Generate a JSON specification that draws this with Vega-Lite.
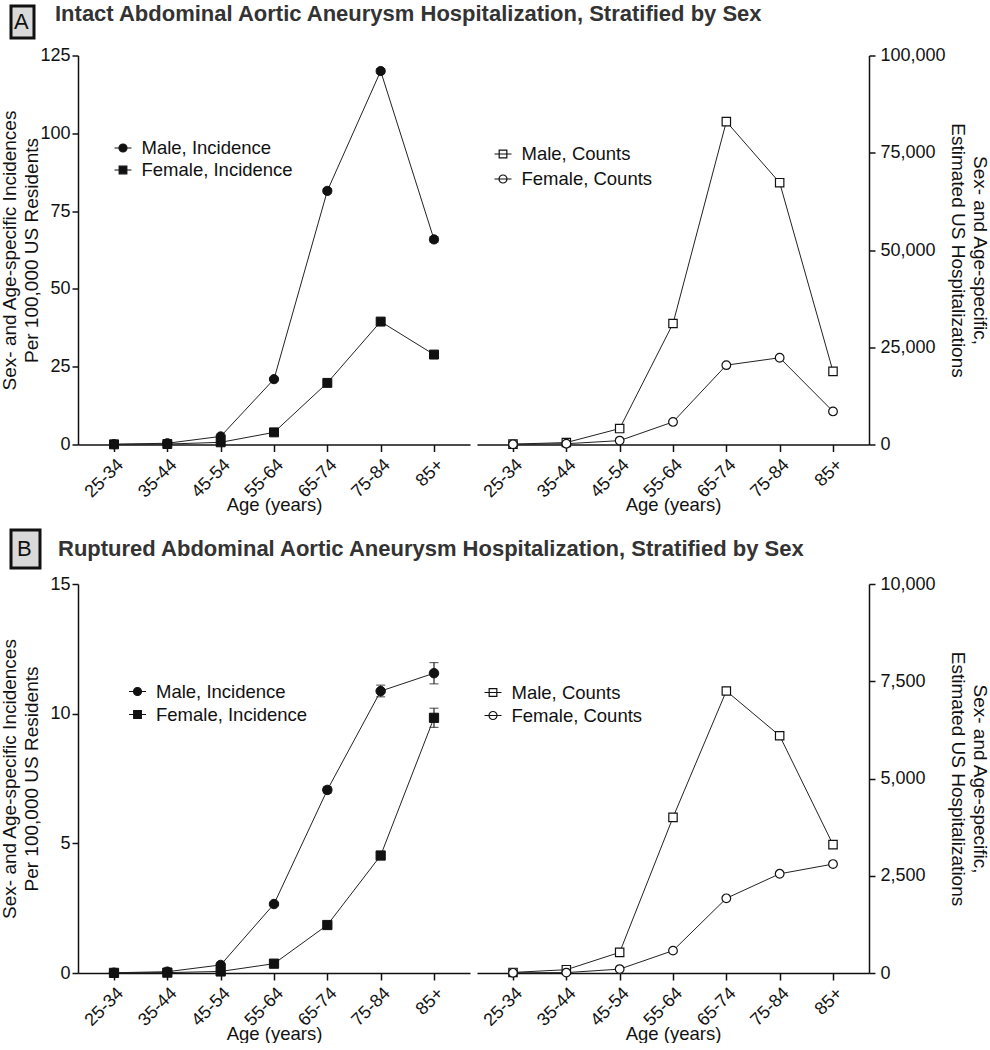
{
  "$schema": "https://vega.github.io/schema/vega-lite/v6.json",
  "background": "white",
  "padding": {"left": 0, "top": 3, "right": 0, "bottom": 0},
  "config": {
    "view": {"stroke": null},
    "font": "Liberation Sans",
    "axis": {"grid": false, "domainColor": "#111", "domainWidth": 1.5, "tickColor": "#111", "tickWidth": 1.5, "labelColor": "#111", "titleColor": "#111", "labelFont": "Liberation Sans", "titleFont": "Liberation Sans", "labelFontSize": 18, "titleFontSize": 19, "titleFontWeight": "normal"},
    "legend": {"labelFont": "Liberation Sans", "labelFontSize": 18.5, "labelColor": "#111", "labelOffset": 9, "padding": 0, "title": null, "symbolSize": 289, "symbolStrokeWidth": 1.2}
  },
  "datasets": {
    "incA": [
      {"age": "25-34", "series": "Male, Incidence", "v": 0.1, "lo": 0.05, "hi": 0.15},
      {"age": "35-44", "series": "Male, Incidence", "v": 0.4, "lo": 0.3, "hi": 0.5},
      {"age": "45-54", "series": "Male, Incidence", "v": 2.6, "lo": 2.4, "hi": 2.8},
      {"age": "55-64", "series": "Male, Incidence", "v": 21.0, "lo": 20.6, "hi": 21.4},
      {"age": "65-74", "series": "Male, Incidence", "v": 81.5, "lo": 80.8, "hi": 82.2},
      {"age": "75-84", "series": "Male, Incidence", "v": 120.0, "lo": 119.2, "hi": 120.8},
      {"age": "85+", "series": "Male, Incidence", "v": 65.9, "lo": 65.0, "hi": 66.8},
      {"age": "25-34", "series": "Female, Incidence", "v": 0.05, "lo": 0.02, "hi": 0.08},
      {"age": "35-44", "series": "Female, Incidence", "v": 0.15, "lo": 0.1, "hi": 0.2},
      {"age": "45-54", "series": "Female, Incidence", "v": 0.7, "lo": 0.6, "hi": 0.8},
      {"age": "55-64", "series": "Female, Incidence", "v": 3.9, "lo": 3.7, "hi": 4.1},
      {"age": "65-74", "series": "Female, Incidence", "v": 19.8, "lo": 19.4, "hi": 20.2},
      {"age": "75-84", "series": "Female, Incidence", "v": 39.5, "lo": 39.0, "hi": 40.0},
      {"age": "85+", "series": "Female, Incidence", "v": 28.9, "lo": 28.3, "hi": 29.5}
    ],
    "cntA": [
      {"age": "25-34", "series": "Male, Counts", "v": 100},
      {"age": "35-44", "series": "Male, Counts", "v": 500},
      {"age": "45-54", "series": "Male, Counts", "v": 4100},
      {"age": "55-64", "series": "Male, Counts", "v": 31100},
      {"age": "65-74", "series": "Male, Counts", "v": 83000},
      {"age": "75-84", "series": "Male, Counts", "v": 67300},
      {"age": "85+", "series": "Male, Counts", "v": 18800},
      {"age": "25-34", "series": "Female, Counts", "v": 50},
      {"age": "35-44", "series": "Female, Counts", "v": 200},
      {"age": "45-54", "series": "Female, Counts", "v": 1000},
      {"age": "55-64", "series": "Female, Counts", "v": 5800},
      {"age": "65-74", "series": "Female, Counts", "v": 20400},
      {"age": "75-84", "series": "Female, Counts", "v": 22300},
      {"age": "85+", "series": "Female, Counts", "v": 8500}
    ],
    "incB": [
      {"age": "25-34", "series": "Male, Incidence", "v": 0.01, "lo": 0.005, "hi": 0.015},
      {"age": "35-44", "series": "Male, Incidence", "v": 0.05, "lo": 0.04, "hi": 0.06},
      {"age": "45-54", "series": "Male, Incidence", "v": 0.31, "lo": 0.28, "hi": 0.34},
      {"age": "55-64", "series": "Male, Incidence", "v": 2.66, "lo": 2.6, "hi": 2.72},
      {"age": "65-74", "series": "Male, Incidence", "v": 7.06, "lo": 6.94, "hi": 7.18},
      {"age": "75-84", "series": "Male, Incidence", "v": 10.87, "lo": 10.65, "hi": 11.1},
      {"age": "85+", "series": "Male, Incidence", "v": 11.56, "lo": 11.15, "hi": 11.97},
      {"age": "25-34", "series": "Female, Incidence", "v": 0.005, "lo": 0.003, "hi": 0.007},
      {"age": "35-44", "series": "Female, Incidence", "v": 0.015, "lo": 0.01, "hi": 0.02},
      {"age": "45-54", "series": "Female, Incidence", "v": 0.06, "lo": 0.05, "hi": 0.07},
      {"age": "55-64", "series": "Female, Incidence", "v": 0.36, "lo": 0.33, "hi": 0.39},
      {"age": "65-74", "series": "Female, Incidence", "v": 1.85, "lo": 1.79, "hi": 1.91},
      {"age": "75-84", "series": "Female, Incidence", "v": 4.53, "lo": 4.41, "hi": 4.65},
      {"age": "85+", "series": "Female, Incidence", "v": 9.84, "lo": 9.47, "hi": 10.21}
    ],
    "cntB": [
      {"age": "25-34", "series": "Male, Counts", "v": 15},
      {"age": "35-44", "series": "Male, Counts", "v": 85},
      {"age": "45-54", "series": "Male, Counts", "v": 530},
      {"age": "55-64", "series": "Male, Counts", "v": 4000},
      {"age": "65-74", "series": "Male, Counts", "v": 7250},
      {"age": "75-84", "series": "Male, Counts", "v": 6100},
      {"age": "85+", "series": "Male, Counts", "v": 3300},
      {"age": "25-34", "series": "Female, Counts", "v": 5},
      {"age": "35-44", "series": "Female, Counts", "v": 10},
      {"age": "45-54", "series": "Female, Counts", "v": 100},
      {"age": "55-64", "series": "Female, Counts", "v": 575},
      {"age": "65-74", "series": "Female, Counts", "v": 1920},
      {"age": "75-84", "series": "Female, Counts", "v": 2550},
      {"age": "85+", "series": "Female, Counts", "v": 2800}
    ]
  },
  "spacing": 13,
  "resolve": {"scale": {"color": "independent"}, "legend": {"color": "independent"}},
  "vconcat": [
    {
      "spacing": 6.5,
      "resolve": {"scale": {"color": "independent"}, "legend": {"color": "independent"}},
      "vconcat": [
        {
          "width": 1, "height": 32,
          "data": {"values": [{"label": "A", "title": "Intact Abdominal Aortic Aneurysm Hospitalization, Stratified by Sex"}]},
          "mark": {"type": "text", "fontSize": 22, "fontWeight": "bold", "baseline": "middle", "align": "left", "dx": -23.5, "dy": -8, "font": "Liberation Sans"},
          "encoding": {
            "text": {"field": "title"},
            "color": {"field": "label", "type": "nominal", "scale": {"range": ["#333"]}, "legend": {"orient": "left", "offset": 43.8, "title": null, "padding": 5, "symbolSize": 0.01, "symbolOpacity": 0, "symbolStrokeWidth": 0, "labelOffset": -24, "labelFontSize": 22, "labelColor": "#111", "labelFont": "Liberation Sans", "encode": {"legend": {"update": {"fill": {"value": "#d9d9d9"}, "stroke": {"value": "#111"}, "strokeWidth": {"value": 3}}}}}}
          }
        },
        {
          "spacing": 7,
          "hconcat": [
            {
              "width": 392, "height": 389,
              "data": {"name": "incA"},
              "encoding": {
                "x": {"field": "age", "type": "ordinal", "scale": {"type": "point", "domain": ["25-34", "35-44", "45-54", "55-64", "65-74", "75-84", "85+"], "padding": 0.675}, "axis": {"title": "Age (years)", "labelAngle": -45, "tickSize": 7, "labelPadding": 4, "titlePadding": -5, "titleFontSize": 18.5}},
                "y": {"field": "v", "type": "quantitative", "scale": {"domain": [0, 125], "nice": false}, "axis": {"title": ["Sex- and Age-specific Incidences", "Per 100,000 US Residents"], "values": [0, 25, 50, 75, 100, 125], "format": "d", "tickSize": 6, "labelPadding": 2, "minExtent": 28, "maxExtent": 28, "titlePadding": 9, "titleLineHeight": 22}}
              },
              "layer": [
                {
                  "mark": {"type": "line", "color": "#222", "strokeWidth": 1},
                  "encoding": {"detail": {"field": "series"}}
                },
                {
                  "mark": {"type": "errorbar", "ticks": {"size": 9, "color": "#222", "thickness": 1.2}, "rule": {"color": "#222", "strokeWidth": 1.2}},
                  "encoding": {
                    "y": {"field": "lo", "type": "quantitative", "scale": {"domain": [0, 125], "nice": false}, "axis": {"title": ["Sex- and Age-specific Incidences", "Per 100,000 US Residents"], "values": [0, 25, 50, 75, 100, 125], "format": "d", "tickSize": 6, "labelPadding": 2, "minExtent": 28, "maxExtent": 28, "titlePadding": 9, "titleLineHeight": 22}},
                    "y2": {"field": "hi"}
                  }
                },
                {
                  "mark": {"type": "point", "filled": true, "fill": "#111", "stroke": "#111", "strokeWidth": 1, "opacity": 1},
                  "encoding": {
                    "shape": {"field": "series", "type": "nominal", "scale": {"domain": ["Male, Incidence", "Female, Incidence"], "range": ["circle", "square"]}, "legend": null},
                    "size": {"field": "series", "type": "nominal", "scale": {"domain": ["Male, Incidence", "Female, Incidence"], "range": [85, 80]}, "legend": null}
                  }
                },
                {
                  "transform": [{"filter": "datum.v < 0"}],
                  "mark": {"type": "point", "filled": true, "fill": "#111", "stroke": "#111", "strokeWidth": 1.2, "opacity": 1},
                  "encoding": {
                    "shape": {"field": "series", "type": "nominal", "scale": {"domain": ["Male, Incidence", "Female, Incidence"], "range": ["M-1,0H1M0.47,0A0.47,0.47,0,1,1,-0.47,0A0.47,0.47,0,1,1,0.47,0Z", "M-1,0H1M-0.45,-0.45H0.45V0.45H-0.45Z"]}, "legend": {"orient": "none", "legendX": 35.5, "legendY": 83, "rowPadding": 3, "encode": {"symbols": {"update": {"fill": {"value": "#111"}, "stroke": {"value": "#111"}, "strokeWidth": {"value": 1.2}, "opacity": {"value": 1}}}}}}
                  }
                }
              ],
              "resolve": {"scale": {"shape": "independent", "size": "independent"}}
            },
            {
              "width": 392, "height": 389,
              "data": {"name": "cntA"},
              "encoding": {
                "x": {"field": "age", "type": "ordinal", "scale": {"type": "point", "domain": ["25-34", "35-44", "45-54", "55-64", "65-74", "75-84", "85+"], "padding": 0.675}, "axis": {"title": "Age (years)", "labelAngle": -45, "tickSize": 7, "labelPadding": 4, "titlePadding": -5, "titleFontSize": 18.5}},
                "y": {"field": "v", "type": "quantitative", "scale": {"domain": [0, 100000], "nice": false}, "axis": {"orient": "right", "title": ["Sex- and Age-specific,", "Estimated US Hospitalizations"], "values": [0, 25000, 50000, 75000, 100000], "format": ",d", "tickSize": 6, "labelPadding": 5, "minExtent": 74, "maxExtent": 74, "titlePadding": 4, "titleLineHeight": 22}}
              },
              "layer": [
                {
                  "mark": {"type": "line", "color": "#222", "strokeWidth": 1},
                  "encoding": {"detail": {"field": "series"}}
                },
                {
                  "mark": {"type": "point", "filled": true, "fill": "white", "stroke": "#111", "strokeWidth": 1.2, "opacity": 1},
                  "encoding": {
                    "shape": {"field": "series", "type": "nominal", "scale": {"domain": ["Male, Counts", "Female, Counts"], "range": ["square", "circle"]}, "legend": null},
                    "size": {"field": "series", "type": "nominal", "scale": {"domain": ["Male, Counts", "Female, Counts"], "range": [70, 75]}, "legend": null}
                  }
                },
                {
                  "transform": [{"filter": "datum.v < 0"}],
                  "mark": {"type": "point", "filled": true, "fill": "white", "stroke": "#111", "strokeWidth": 1.2, "opacity": 1},
                  "encoding": {
                    "shape": {"field": "series", "type": "nominal", "scale": {"domain": ["Male, Counts", "Female, Counts"], "range": ["M-1,0H1M-0.45,-0.45H0.45V0.45H-0.45Z", "M-1,0H1M0.47,0A0.47,0.47,0,1,1,-0.47,0A0.47,0.47,0,1,1,0.47,0Z"]}, "legend": {"orient": "none", "legendX": 16.5, "legendY": 89, "rowPadding": 6, "encode": {"symbols": {"update": {"fill": {"value": "white"}, "stroke": {"value": "#111"}, "strokeWidth": {"value": 1.2}, "opacity": {"value": 1}}}}}}
                  }
                }
              ],
              "resolve": {"scale": {"shape": "independent", "size": "independent"}}
            }
          ]
        }
      ]
    },
    {
      "spacing": 5,
      "resolve": {"scale": {"color": "independent"}, "legend": {"color": "independent"}},
      "vconcat": [
        {
          "width": 1, "height": 38,
          "data": {"values": [{"label": "B", "title": "Ruptured Abdominal Aortic Aneurysm Hospitalization, Stratified by Sex"}]},
          "mark": {"type": "text", "fontSize": 22, "fontWeight": "bold", "baseline": "middle", "align": "left", "dx": -20.5, "font": "Liberation Sans"},
          "encoding": {
            "text": {"field": "title"},
            "color": {"field": "label", "type": "nominal", "scale": {"range": ["#333"]}, "legend": {"orient": "left", "offset": 37.8, "title": null, "padding": 8, "symbolSize": 0.01, "symbolOpacity": 0, "symbolStrokeWidth": 0, "labelOffset": -24, "labelFontSize": 22, "labelColor": "#111", "labelFont": "Liberation Sans", "encode": {"legend": {"update": {"fill": {"value": "#d9d9d9"}, "stroke": {"value": "#111"}, "strokeWidth": {"value": 3}}}}}}
          }
        },
        {
          "spacing": 7,
          "hconcat": [
            {
              "width": 392, "height": 389,
              "data": {"name": "incB"},
              "encoding": {
                "x": {"field": "age", "type": "ordinal", "scale": {"type": "point", "domain": ["25-34", "35-44", "45-54", "55-64", "65-74", "75-84", "85+"], "padding": 0.675}, "axis": {"title": "Age (years)", "labelAngle": -45, "tickSize": 7, "labelPadding": 4, "titlePadding": -5, "titleFontSize": 18.5}},
                "y": {"field": "v", "type": "quantitative", "scale": {"domain": [0, 15], "nice": false}, "axis": {"title": ["Sex- and Age-specific Incidences", "Per 100,000 US Residents"], "values": [0, 5, 10, 15], "format": "d", "tickSize": 6, "labelPadding": 2, "minExtent": 28, "maxExtent": 28, "titlePadding": 9, "titleLineHeight": 22}}
              },
              "layer": [
                {
                  "mark": {"type": "line", "color": "#222", "strokeWidth": 1},
                  "encoding": {"detail": {"field": "series"}}
                },
                {
                  "mark": {"type": "errorbar", "ticks": {"size": 9, "color": "#222", "thickness": 1.2}, "rule": {"color": "#222", "strokeWidth": 1.2}},
                  "encoding": {
                    "y": {"field": "lo", "type": "quantitative", "scale": {"domain": [0, 15], "nice": false}, "axis": {"title": ["Sex- and Age-specific Incidences", "Per 100,000 US Residents"], "values": [0, 5, 10, 15], "format": "d", "tickSize": 6, "labelPadding": 2, "minExtent": 28, "maxExtent": 28, "titlePadding": 9, "titleLineHeight": 22}},
                    "y2": {"field": "hi"}
                  }
                },
                {
                  "mark": {"type": "point", "filled": true, "fill": "#111", "stroke": "#111", "strokeWidth": 1, "opacity": 1},
                  "encoding": {
                    "shape": {"field": "series", "type": "nominal", "scale": {"domain": ["Male, Incidence", "Female, Incidence"], "range": ["circle", "square"]}, "legend": null},
                    "size": {"field": "series", "type": "nominal", "scale": {"domain": ["Male, Incidence", "Female, Incidence"], "range": [90, 85]}, "legend": null}
                  }
                },
                {
                  "transform": [{"filter": "datum.v < 0"}],
                  "mark": {"type": "point", "filled": true, "fill": "#111", "stroke": "#111", "strokeWidth": 1.2, "opacity": 1},
                  "encoding": {
                    "shape": {"field": "series", "type": "nominal", "scale": {"domain": ["Male, Incidence", "Female, Incidence"], "range": ["M-1,0H1M0.47,0A0.47,0.47,0,1,1,-0.47,0A0.47,0.47,0,1,1,0.47,0Z", "M-1,0H1M-0.45,-0.45H0.45V0.45H-0.45Z"]}, "legend": {"orient": "none", "legendX": 50, "legendY": 98, "rowPadding": 4, "encode": {"symbols": {"update": {"fill": {"value": "#111"}, "stroke": {"value": "#111"}, "strokeWidth": {"value": 1.2}, "opacity": {"value": 1}}}}}}
                  }
                }
              ],
              "resolve": {"scale": {"shape": "independent", "size": "independent"}}
            },
            {
              "width": 392, "height": 389,
              "data": {"name": "cntB"},
              "encoding": {
                "x": {"field": "age", "type": "ordinal", "scale": {"type": "point", "domain": ["25-34", "35-44", "45-54", "55-64", "65-74", "75-84", "85+"], "padding": 0.675}, "axis": {"title": "Age (years)", "labelAngle": -45, "tickSize": 7, "labelPadding": 4, "titlePadding": -5, "titleFontSize": 18.5}},
                "y": {"field": "v", "type": "quantitative", "scale": {"domain": [0, 10000], "nice": false}, "axis": {"orient": "right", "title": ["Sex- and Age-specific,", "Estimated US Hospitalizations"], "values": [0, 2500, 5000, 7500, 10000], "format": ",d", "tickSize": 6, "labelPadding": 5, "minExtent": 74, "maxExtent": 74, "titlePadding": 4, "titleLineHeight": 22}}
              },
              "layer": [
                {
                  "mark": {"type": "line", "color": "#222", "strokeWidth": 1},
                  "encoding": {"detail": {"field": "series"}}
                },
                {
                  "mark": {"type": "point", "filled": true, "fill": "white", "stroke": "#111", "strokeWidth": 1.2, "opacity": 1},
                  "encoding": {
                    "shape": {"field": "series", "type": "nominal", "scale": {"domain": ["Male, Counts", "Female, Counts"], "range": ["square", "circle"]}, "legend": null},
                    "size": {"field": "series", "type": "nominal", "scale": {"domain": ["Male, Counts", "Female, Counts"], "range": [70, 75]}, "legend": null}
                  }
                },
                {
                  "transform": [{"filter": "datum.v < 0"}],
                  "mark": {"type": "point", "filled": true, "fill": "white", "stroke": "#111", "strokeWidth": 1.2, "opacity": 1},
                  "encoding": {
                    "shape": {"field": "series", "type": "nominal", "scale": {"domain": ["Male, Counts", "Female, Counts"], "range": ["M-1,0H1M-0.45,-0.45H0.45V0.45H-0.45Z", "M-1,0H1M0.47,0A0.47,0.47,0,1,1,-0.47,0A0.47,0.47,0,1,1,0.47,0Z"]}, "legend": {"orient": "none", "legendX": 6.5, "legendY": 99, "rowPadding": 4, "encode": {"symbols": {"update": {"fill": {"value": "white"}, "stroke": {"value": "#111"}, "strokeWidth": {"value": 1.2}, "opacity": {"value": 1}}}}}}
                  }
                }
              ],
              "resolve": {"scale": {"shape": "independent", "size": "independent"}}
            }
          ]
        }
      ]
    }
  ]
}
